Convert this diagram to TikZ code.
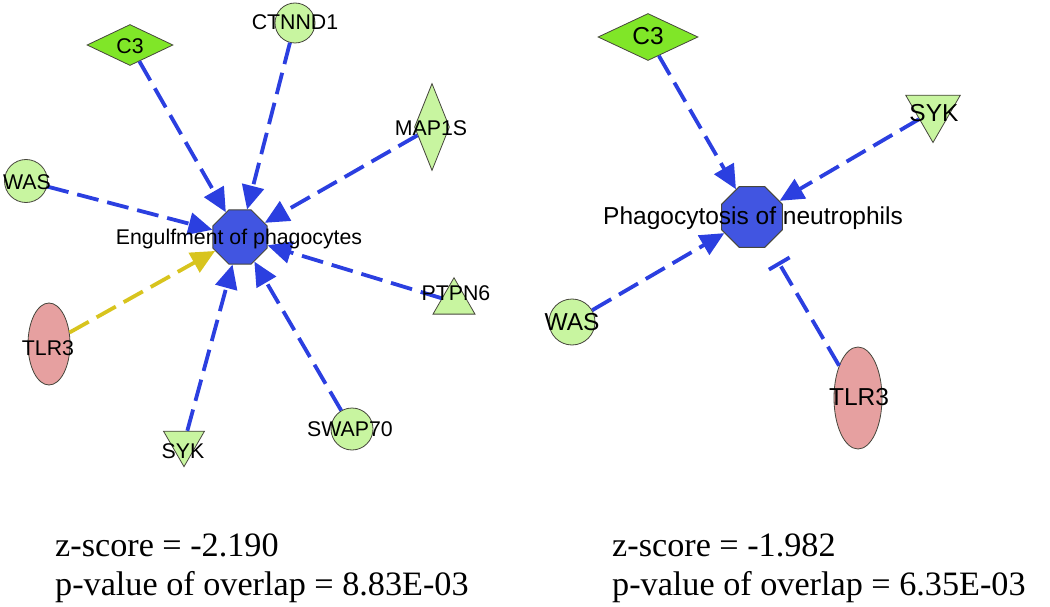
\documentclass[tikz,border=0pt]{standalone}
\usepackage{fontspec}
\setmainfont{Liberation Serif}
\newfontfamily\arialf{Liberation Sans}
\usetikzlibrary{shapes.geometric,arrows.meta}
\definecolor{lgreen}{RGB}{200,245,160}
\definecolor{bgreen}{RGB}{128,230,40}
\definecolor{pinkn}{RGB}{230,160,160}
\definecolor{octblue}{RGB}{65,85,225}
\definecolor{edgeblue}{RGB}{43,63,224}
\definecolor{yel}{RGB}{216,196,30}
\definecolor{outl}{RGB}{70,70,60}
\tikzset{
  gene/.style={draw=outl, line width=0.8pt, inner sep=0pt},
  circgene/.style={gene, circle, fill=lgreen},
  diagene/.style={gene, diamond, fill=#1},
  trigene/.style={gene, regular polygon, regular polygon sides=3, fill=lgreen},
  ellgene/.style={gene, ellipse, fill=pinkn},
  octnode/.style={draw=outl, line width=1pt, fill=octblue, regular polygon, regular polygon sides=8, inner sep=0pt},
  lblS/.style={inner sep=0pt, font=\arialf\fontsize{21.3}{25}\selectfont},
  lblL/.style={inner sep=0pt, font=\arialf\fontsize{24.5}{29}\selectfont},
  act/.style={draw=edgeblue, line width=3.8pt, dash pattern=on 22pt off 9pt, -{Triangle[length=24pt,width=22pt]}, color=edgeblue},
  actyel/.style={act, draw=yel, color=yel},
  inhib/.style={draw=edgeblue, line width=3.8pt, dash pattern=on 22pt off 9pt, -{Bar[width=24pt]}, color=edgeblue},
  stat/.style={inner sep=0pt, anchor=base west, font=\fontsize{34.2}{40}\selectfont}
}
\begin{document}
\begin{tikzpicture}[x=1pt,y=-1pt]
\useasboundingbox (0,0) rectangle (1050,607);

% ---------- left network ----------
\node[octnode, minimum size=58.5pt] (octL) at (240,237) {};
\node[diagene=bgreen, minimum width=86pt, minimum height=41pt] (c3L) at (130,45) {};
\node[circgene, minimum size=40pt] (ctnL) at (295,23) {};
\node[diagene=lgreen, minimum width=35pt, minimum height=87pt] (mapL) at (432,127) {};
\node[circgene, minimum size=43pt] (wasL) at (26,181) {};
\node[ellgene, minimum width=42pt, minimum height=82pt] (tlrL) at (49,344) {};
\node[trigene, minimum size=47.3pt, shape border rotate=180] (sykL) at (184,443) {};
\node[circgene, minimum size=42pt] (swaL) at (352,429) {};
\node[trigene, minimum size=48.5pt] (ptpL) at (454,302) {};

\draw[act] (c3L) -- (octL);
\draw[act] (ctnL) -- (octL);
\draw[act] (mapL) -- (octL);
\draw[act] (wasL) -- (octL);
\draw[actyel] (tlrL) -- (octL);
\draw[act] (ptpL) -- (octL);
\draw[act] (swaL) -- (octL);
\draw[act] (sykL) -- (octL);

\node[lblS] (octLt) at (239,239) {Engulfment of phagocytes};
\node[lblS] (c3Lt) at (130,46) {C3};
\node[lblS] (ctnLt) at (295,22) {CTNND1};
\node[lblS] (mapLt) at (431,128) {MAP1S};
\node[lblS] (wasLt) at (27,182) {WAS};
\node[lblS] (tlrLt) at (48,348) {TLR3};
\node[lblS] (sykLt) at (183,451) {SYK};
\node[lblS] (swaLt) at (350,429) {SWAP70};
\node[lblS] (ptpLt) at (456,293) {PTPN6};

% ---------- right network ----------
\node[octnode, minimum size=66pt] (octR) at (752,217) {};
\node[diagene=bgreen, minimum width=100pt, minimum height=47pt] (c3R) at (648,37) {};
\node[trigene, minimum size=63pt, shape border rotate=180] (sykR) at (933,111) {};
\node[circgene, minimum size=46pt] (wasR) at (572,322) {};
\node[ellgene, minimum width=48pt, minimum height=102pt] (tlrR) at (858,398) {};

\draw[act] (c3R) -- (octR);
\draw[act] (sykR) -- (octR);
\draw[act] (wasR) -- (octR);
\draw[inhib, shorten >=20pt] (tlrR) -- (octR);

\node[lblL] (octRt) at (753,218) {Phagocytosis of neutrophils};
\node[lblL] (c3Rt) at (648,36) {C3};
\node[lblL] (sykRt) at (934,113) {SYK};
\node[lblL] (wasRt) at (572,322) {WAS};
\node[lblL] (tlrRt) at (859,397) {TLR3};

% ---------- statistics ----------
\node[stat] (zL) at (55,556) {z-score = -2.190};
\node[stat] (pL) at (55,595) {p-value of overlap = 8.83E-03};
\node[stat] (zR) at (612,556) {z-score = -1.982};
\node[stat] (pR) at (612,595) {p-value of overlap = 6.35E-03};
\end{tikzpicture}
\end{document}
